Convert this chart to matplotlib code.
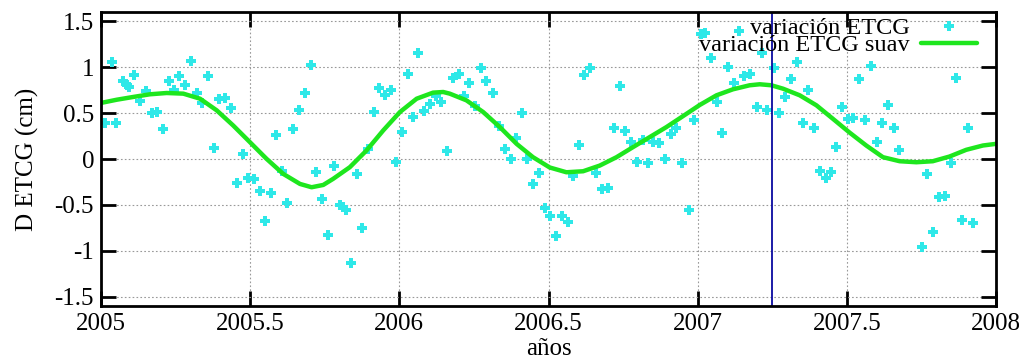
import matplotlib
matplotlib.use("Agg")
import matplotlib.pyplot as plt

plt.rcParams['font.family'] = ['Liberation Serif', 'DejaVu Serif']

# variación semanal ETCG (cm)
t_obs = [2005.013, 2005.036, 2005.052, 2005.073, 2005.086, 2005.095, 2005.112, 2005.131,
         2005.151, 2005.170, 2005.189, 2005.207, 2005.228, 2005.246, 2005.262, 2005.282,
         2005.301, 2005.323, 2005.338, 2005.359, 2005.379, 2005.396, 2005.417, 2005.437,
         2005.456, 2005.476, 2005.493, 2005.513, 2005.532, 2005.551, 2005.569, 2005.588,
         2005.608, 2005.625, 2005.644, 2005.664, 2005.684, 2005.703, 2005.722, 2005.742,
         2005.761, 2005.781, 2005.800, 2005.811, 2005.822, 2005.839, 2005.857, 2005.876,
         2005.895, 2005.914, 2005.931, 2005.951, 2005.972, 2005.990, 2006.009, 2006.028,
         2006.047, 2006.064, 2006.083, 2006.103, 2006.122, 2006.140, 2006.160, 2006.179,
         2006.199, 2006.216, 2006.235, 2006.255, 2006.274, 2006.292, 2006.313, 2006.334,
         2006.353, 2006.373, 2006.390, 2006.410, 2006.427, 2006.448, 2006.469, 2006.488,
         2006.504, 2006.525, 2006.544, 2006.564, 2006.583, 2006.603, 2006.620, 2006.640,
         2006.660, 2006.680, 2006.699, 2006.719, 2006.738, 2006.757, 2006.778, 2006.797,
         2006.817, 2006.834, 2006.851, 2006.871, 2006.890, 2006.909, 2006.927, 2006.946,
         2006.971, 2006.988, 2007.010, 2007.025, 2007.045, 2007.066, 2007.083, 2007.103,
         2007.122, 2007.140, 2007.156, 2007.175, 2007.198, 2007.215, 2007.234, 2007.256,
         2007.274, 2007.293, 2007.313, 2007.332, 2007.352, 2007.371, 2007.390, 2007.410,
         2007.429, 2007.446, 2007.464, 2007.483, 2007.503, 2007.522, 2007.542, 2007.561,
         2007.580, 2007.600, 2007.619, 2007.637, 2007.658, 2007.676, 2007.753, 2007.770,
         2007.790, 2007.809, 2007.829, 2007.849, 2007.866, 2007.887, 2007.907, 2007.924]
v_obs = [0.39, 1.06, 0.39, 0.85, 0.80, 0.78, 0.915, 0.635,
         0.745, 0.50, 0.515, 0.33, 0.85, 0.75, 0.90, 0.805,
         1.07, 0.715, 0.61, 0.905, 0.12, 0.655, 0.66, 0.55,
         -0.265, 0.05, -0.21, -0.22, -0.35, -0.675, -0.375, 0.265,
         -0.125, -0.475, 0.33, 0.535, 0.715, 1.02, -0.145, -0.44,
         -0.825, -0.075, -0.495, -0.525, -0.55, -1.13, -0.165, -0.755,
         0.105, 0.515, 0.77, 0.70, 0.75, -0.03, 0.29, 0.93,
         0.46, 1.15, 0.525, 0.60, 0.68, 0.625, 0.085, 0.885,
         0.92, 0.68, 0.83, 0.575, 0.995, 0.85, 0.72, 0.36,
         0.105, 0.0, 0.225, 0.50, 0.0, -0.275, -0.155, -0.53,
         -0.615, -0.835, -0.615, -0.69, -0.19, 0.15, 0.915, 0.985,
         -0.15, -0.33, -0.31, 0.335, 0.79, 0.30, 0.19, -0.03,
         0.205, -0.045, 0.19, 0.17, 0.0, 0.27, 0.34, -0.045,
         -0.555, 0.425, 1.355, 1.37, 1.095, 0.625, 0.28, 1.0,
         0.825, 1.395, 0.90, 0.925, 0.565, 1.15, 0.535, 0.985,
         0.50, 0.67, 0.87, 1.055, 0.395, 0.75, 0.335, -0.125,
         -0.21, -0.14, 0.135, 0.565, 0.435, 0.445, 0.87, 0.425,
         1.015, 0.18, 0.39, 0.59, 0.34, 0.10, -0.955, -0.165,
         -0.79, -0.41, -0.405, -0.045, 0.885, -0.665, 0.335, -0.70]

# serie suavizada
t_suav = [2005.000, 2005.053, 2005.108, 2005.164, 2005.220, 2005.276, 2005.332, 2005.388,
          2005.443, 2005.499, 2005.555, 2005.611, 2005.667, 2005.706, 2005.745, 2005.778,
          2005.834, 2005.890, 2005.946, 2006.002, 2006.058, 2006.113, 2006.147, 2006.169,
          2006.225, 2006.281, 2006.337, 2006.393, 2006.448, 2006.504, 2006.560, 2006.616,
          2006.672, 2006.728, 2006.783, 2006.839, 2006.895, 2006.951, 2007.007, 2007.063,
          2007.118, 2007.174, 2007.208, 2007.247, 2007.286, 2007.342, 2007.398, 2007.453,
          2007.509, 2007.565, 2007.621, 2007.677, 2007.733, 2007.788, 2007.844, 2007.900,
          2007.956, 2008.000]
v_suav = [0.610, 0.645, 0.675, 0.704, 0.718, 0.711, 0.656, 0.529,
          0.365, 0.184, 0.002, -0.162, -0.271, -0.307, -0.282, -0.216,
          -0.089, 0.093, 0.311, 0.511, 0.656, 0.722, 0.729, 0.711,
          0.638, 0.511, 0.347, 0.165, 0.020, -0.092, -0.144, -0.133,
          -0.071, 0.020, 0.129, 0.238, 0.347, 0.467, 0.588, 0.693,
          0.758, 0.802, 0.813, 0.802, 0.765, 0.693, 0.584, 0.438,
          0.288, 0.147, 0.020, -0.024, -0.035, -0.024, 0.027, 0.100,
          0.147, 0.165]

t_marca = 2007.25

fig = plt.figure(figsize=(10.2, 3.61), dpi=100)
ax = fig.add_axes([0.099, 0.152, 0.8775, 0.815])

ax.grid(True, color='#999999', linestyle=(0, (1.5, 2)), linewidth=0.8)
ax.set_axisbelow(True)

ax.plot(t_obs, v_obs, linestyle='none', marker='P', markersize=7.5,
        color='#2ee8e8', markeredgewidth=0, label='variación ETCG')
ax.plot(t_suav, v_suav, color='#1ee61e', linewidth=3.2, solid_joinstyle='round',
        solid_capstyle='round', label='variación ETCG suav')
ax.axvline(t_marca, color='#0a0aa0', linewidth=1.3)

ax.set_xlim(2005, 2008)
ax.set_ylim(-1.6, 1.6)
ax.set_xticks([2005, 2005.5, 2006, 2006.5, 2007, 2007.5, 2008])
ax.set_xticklabels(['2005', '2005.5', '2006', '2006.5', '2007', '2007.5', '2008'])
ax.set_yticks([-1.5, -1, -0.5, 0, 0.5, 1, 1.5])
ax.set_yticklabels(['-1.5', '-1', '-0.5', '0', '0.5', '1', '1.5'])
ax.tick_params(direction='in', length=10.5, width=2, top=True, right=True,
               labelsize=18, pad=5)
for s in ax.spines.values():
    s.set_linewidth(2)

ax.set_xlabel('años', fontsize=18, labelpad=2)
ax.set_ylabel('D ETCG (cm)', fontsize=18, labelpad=11)

ax.legend(loc='upper right', frameon=False, markerfirst=False, fontsize=17.5,
          handlelength=2.3, handletextpad=0.5, labelspacing=-0.2,
          borderaxespad=0.0, bbox_to_anchor=(0.99, 1.015))

fig.savefig('out.png', dpi=100)
